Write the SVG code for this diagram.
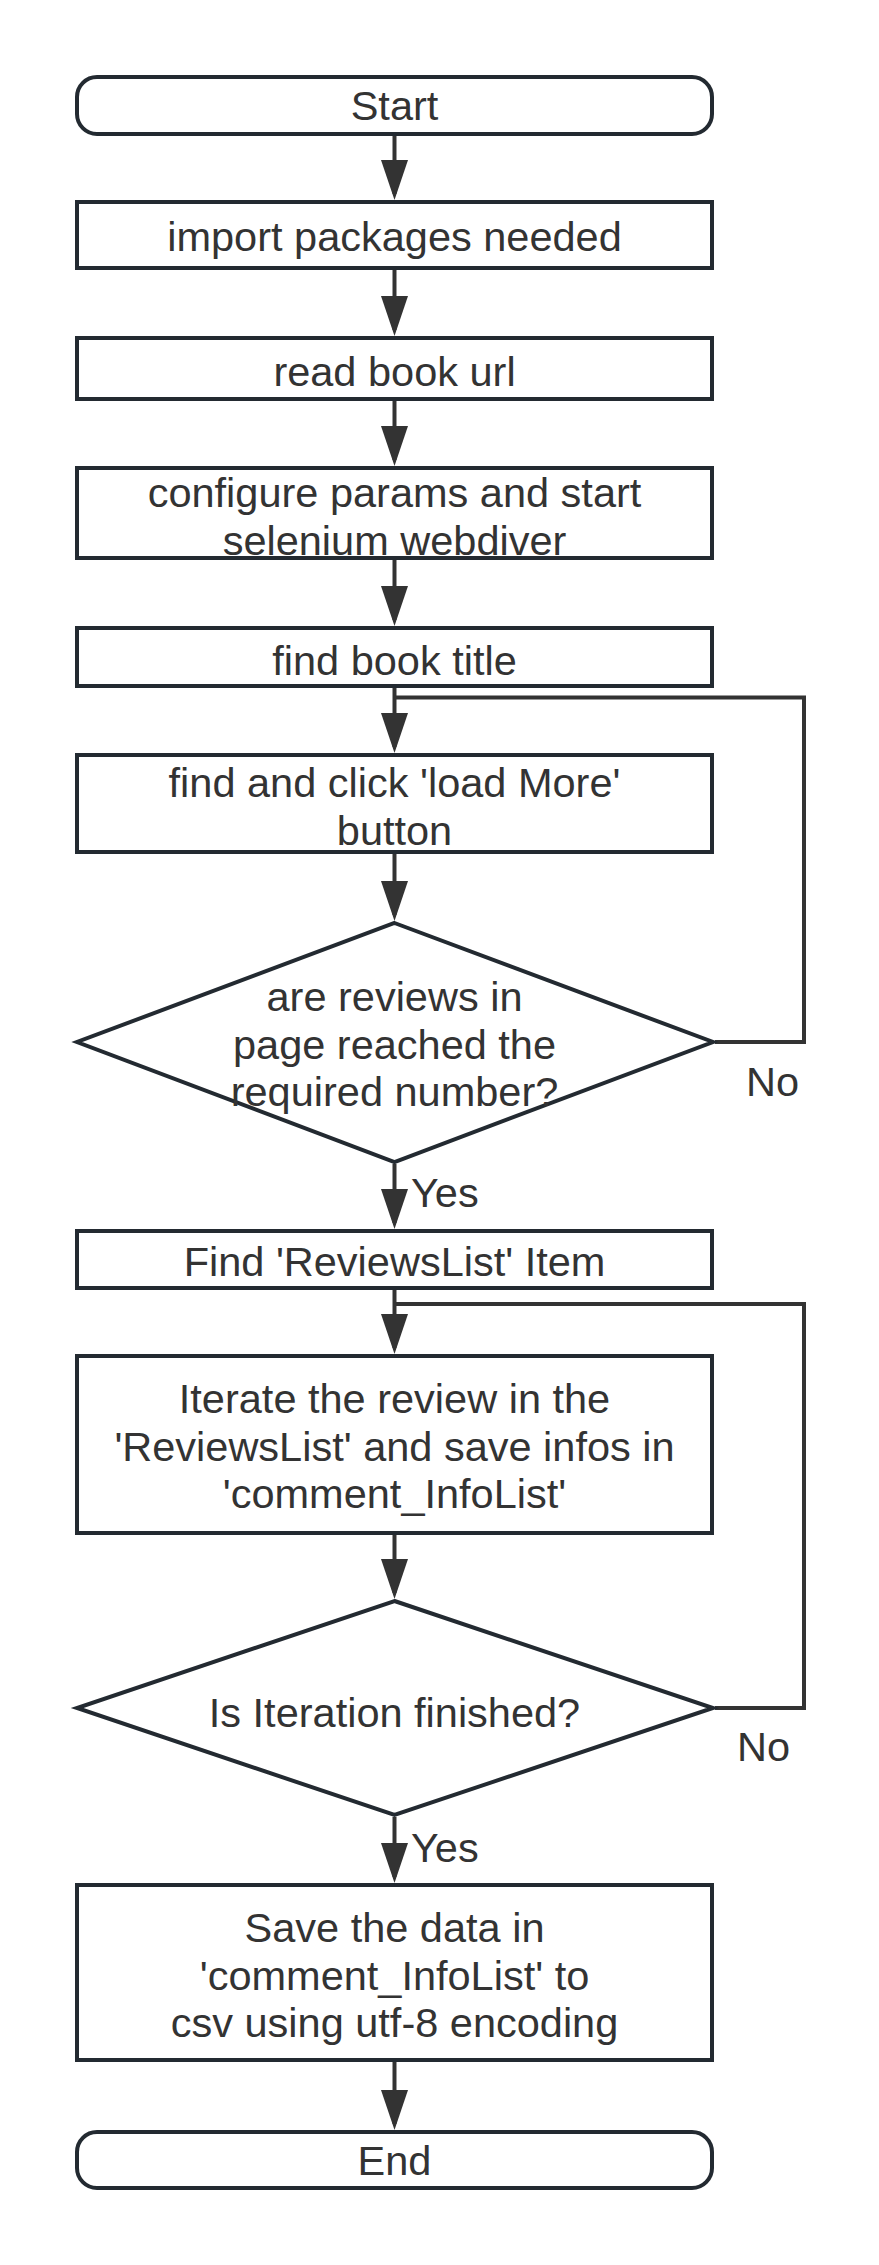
<svg xmlns="http://www.w3.org/2000/svg" width="879" height="2265" viewBox="0 0 879 2265">
<style>
.box{fill:#ffffff;stroke:#232a31;stroke-width:4}
.t{font-family:"Liberation Sans",Arial,sans-serif;font-size:41.5px;fill:#333333;text-anchor:middle}
.lbl{font-family:"Liberation Sans",Arial,sans-serif;font-size:41.5px;fill:#333333}
.c{fill:none;stroke:#333333;stroke-width:4}
</style>
<defs>
<marker id="arr" markerUnits="userSpaceOnUse" viewBox="0 0 40 27" markerWidth="40" markerHeight="27" refX="34" refY="13.5" orient="auto">
<path d="M0,0 L40,13.5 L0,27 z" fill="#333333"/>
</marker>
</defs>
<rect width="879" height="2265" fill="#ffffff"/>
<g id="connectors">
<line class="c" x1="394.5" y1="136" x2="394.5" y2="194" marker-end="url(#arr)"/>
<line class="c" x1="394.5" y1="270" x2="394.5" y2="330" marker-end="url(#arr)"/>
<line class="c" x1="394.5" y1="401" x2="394.5" y2="460" marker-end="url(#arr)"/>
<line class="c" x1="394.5" y1="560" x2="394.5" y2="620" marker-end="url(#arr)"/>
<line class="c" x1="394.5" y1="688" x2="394.5" y2="747" marker-end="url(#arr)"/>
<line class="c" x1="394.5" y1="854" x2="394.5" y2="915" marker-end="url(#arr)"/>
<line class="c" x1="394.5" y1="1164" x2="394.5" y2="1223" marker-end="url(#arr)"/>
<line class="c" x1="394.5" y1="1290" x2="394.5" y2="1348" marker-end="url(#arr)"/>
<line class="c" x1="394.5" y1="1535" x2="394.5" y2="1593" marker-end="url(#arr)"/>
<line class="c" x1="394.5" y1="1817" x2="394.5" y2="1877" marker-end="url(#arr)"/>
<line class="c" x1="394.5" y1="2062" x2="394.5" y2="2124" marker-end="url(#arr)"/>
<polyline class="c" points="715,1042 804,1042 804,697.5 394.5,697.5"/>
<polyline class="c" points="715,1708 804,1708 804,1304 394.5,1304"/>
<text class="lbl" x="746" y="1096">No</text>
<text class="lbl" x="411" y="1207">Yes</text>
<text class="lbl" x="737" y="1761">No</text>
<text class="lbl" x="411" y="1862">Yes</text>
</g>
<g id="start">
<rect class="box" x="77" y="77" width="635" height="57" rx="20" ry="20"/>
<text class="t" x="394.5" y="120">Start</text>
</g>
<g id="import">
<rect class="box" x="77" y="202" width="635" height="66"/>
<text class="t" x="394.5" y="251">import packages needed</text>
</g>
<g id="readurl">
<rect class="box" x="77" y="338" width="635" height="61"/>
<text class="t" x="394.5" y="386">read book url</text>
</g>
<g id="configure">
<rect class="box" x="77" y="468" width="635" height="90"/>
<text class="t" x="394.5" y="507">configure params and start<tspan x="394.5" dy="47.5">selenium webdiver</tspan></text>
</g>
<g id="findtitle">
<rect class="box" x="77" y="628" width="635" height="58"/>
<text class="t" x="394.5" y="675">find book title</text>
</g>
<g id="loadmore">
<rect class="box" x="77" y="755" width="635" height="97"/>
<text class="t" x="394.5" y="797">find and click 'load More'<tspan x="394.5" dy="47.5">button</tspan></text>
</g>
<g id="decision1">
<polygon class="box" points="394.5,923 713,1042 394.5,1162 77,1042"/>
<text class="t" x="394.5" y="1011">are reviews in<tspan x="394.5" dy="47.5">page reached the</tspan><tspan x="394.5" dy="47.5">required number?</tspan></text>
</g>
<g id="findlist">
<rect class="box" x="77" y="1231" width="635" height="57"/>
<text class="t" x="394.5" y="1276">Find 'ReviewsList' Item</text>
</g>
<g id="iterate">
<rect class="box" x="77" y="1356" width="635" height="177"/>
<text class="t" x="394.5" y="1413">Iterate the review in the<tspan x="394.5" dy="47.5">'ReviewsList' and save infos in</tspan><tspan x="394.5" dy="47.5">'comment_InfoList'</tspan></text>
</g>
<g id="decision2">
<polygon class="box" points="394.5,1601 713,1708 394.5,1815 77,1708"/>
<text class="t" x="394.5" y="1727">Is Iteration finished?</text>
</g>
<g id="save">
<rect class="box" x="77" y="1885" width="635" height="175"/>
<text class="t" x="394.5" y="1942">Save the data in<tspan x="394.5" dy="47.5">'comment_InfoList' to</tspan><tspan x="394.5" dy="47.5">csv using utf-8 encoding</tspan></text>
</g>
<g id="end">
<rect class="box" x="77" y="2132" width="635" height="56" rx="20" ry="20"/>
<text class="t" x="394.5" y="2175">End</text>
</g>
</svg>
